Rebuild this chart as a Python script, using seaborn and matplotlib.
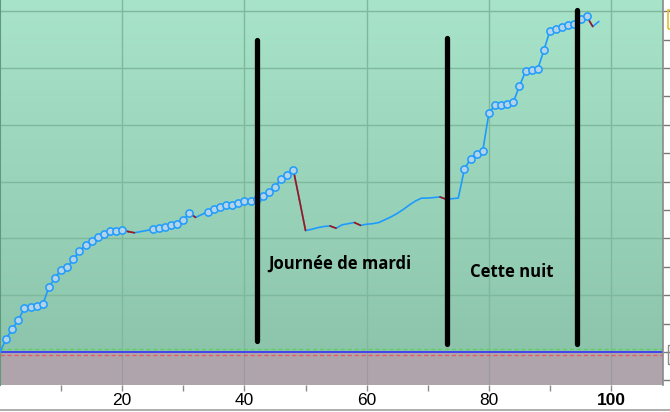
import numpy as np
import pandas as pd
import matplotlib
matplotlib.use("Agg")
import matplotlib.pyplot as plt
from matplotlib.colors import LinearSegmentedColormap
from matplotlib.patches import Rectangle
from matplotlib.lines import Line2D
import seaborn as sns

# ---------------- data ----------------
idx = list(range(0, 99))
values = [
    0.00, 0.23, 0.40, 0.57, 0.77, 0.79, 0.81, 0.84, 1.14, 1.31,
    1.44, 1.49, 1.63, 1.78, 1.88, 1.95, 2.02, 2.07, 2.13, 2.13,
    2.15, 2.12, 2.10, 2.12, 2.14, 2.16, 2.19, 2.21, 2.23, 2.26,
    2.32, 2.45, 2.37, 2.42, 2.47, 2.52, 2.56, 2.59, 2.59, 2.63,
    2.66, 2.66, 2.69, 2.74, 2.81, 2.91, 3.04, 3.11, 3.21, 2.68,
    2.14, 2.16, 2.19, 2.21, 2.22, 2.18, 2.24, 2.26, 2.28, 2.23,
    2.25, 2.26, 2.28, 2.33, 2.38, 2.44, 2.51, 2.59, 2.66, 2.71,
    2.71, 2.72, 2.73, 2.69, 2.70, 2.71, 3.22, 3.40, 3.49, 3.54,
    4.20, 4.35, 4.35, 4.36, 4.40, 4.68, 4.94, 4.96, 4.98, 5.31,
    5.66, 5.68, 5.73, 5.75, 5.78, 5.87, 5.91, 5.73, 5.82,
]
marked_ranges = [(1, 20), (25, 31), (34, 48), (76, 96)]

bar_x = [42.1, 73.1, 94.5]
bar_top = [5.49, 5.53, 6.02]
bar_bottom = [0.20, 0.15, 0.14]

labels_text = ["Journée de mardi", "Cette nuit"]
labels_x = [55.6, 83.8]
labels_y = [1.55, 1.41]

xticks_major = [20, 40, 60, 80, 100]
xticks_minor = [10, 30, 50, 70, 90]
grid_y = [1, 2, 3, 4, 5, 6]

df = pd.DataFrame({"x": idx, "y": values})
df["marked"] = False
for a, b in marked_ranges:
    df.loc[(df.x >= a) & (df.x <= b), "marked"] = True

# ---------------- figure ----------------
sns.set_theme(style="white")
plt.rcParams["font.family"] = ["Liberation Sans", "DejaVu Sans"]

W, H = 670, 412
fig = plt.figure(figsize=(W / 100, H / 100), dpi=100)
ax = fig.add_axes([0, (H - 385) / H, 663 / W, 385 / H])

XMAX, YMIN, YMAX = 108.5, -0.58, 6.197
ax.set_xlim(0, XMAX)
ax.set_ylim(YMIN, YMAX)

# background gradient (positive region) and mauve negative region
cmap = LinearSegmentedColormap.from_list("bg", ["#8cc5ab", "#a8e4ca"])
grad = np.linspace(0, 1, 256).reshape(-1, 1)
ax.imshow(grad, extent=[0, XMAX, 0, YMAX], origin="lower", aspect="auto",
          cmap=cmap, zorder=0)
ax.axhspan(YMIN, 0, color="#b0a4ac", zorder=1, lw=0)

# grid
for gy in grid_y:
    ax.axhline(gy, color="#7fb99c", lw=1.0, zorder=0.5)
for gx in xticks_major:
    ax.plot([gx, gx], [0, YMAX], color="#7fb99c", lw=1.0, zorder=0.5)
    ax.plot([gx, gx], [YMIN, 0], color="#9c9a9e", lw=1.0, zorder=1.1)

# reference lines
ax.axhline(0.053, color="#5fcf5f", lw=1.0, ls=(0, (3, 2)), zorder=2)
ax.axhline(-0.058, color="#e06060", lw=1.0, ls=(0, (3, 2)), zorder=2)
ax.axhline(0.0, color="#3a3af0", lw=1.3, zorder=2.1)

# main line (blue) and declining segments (red)
sns.lineplot(data=df, x="x", y="y", ax=ax, color="#1e9bff", lw=1.2,
             zorder=3, estimator=None, sort=False)
for i in range(1, len(df)):
    if df.y.iloc[i] < df.y.iloc[i - 1]:
        ax.plot(df.x.iloc[i - 1:i + 1], df.y.iloc[i - 1:i + 1],
                color="#a51515", lw=1.2, zorder=3.1)

# markers
sns.scatterplot(data=df[df.marked], x="x", y="y", ax=ax, s=27,
                color="#b2d3e8", edgecolor="#1e9bff", linewidth=1.1,
                zorder=4, legend=False)

# black vertical bars
for bx, bt, bb in zip(bar_x, bar_top, bar_bottom):
    ax.plot([bx, bx], [bb, bt], color="black", lw=3.8,
            solid_capstyle="round", zorder=5)

# annotations
for t, tx, ty in zip(labels_text, labels_x, labels_y):
    ax.text(tx, ty, t, ha="center", va="center", fontsize=12,
            fontweight="bold", family=["Open Sans", "DejaVu Sans"],
            color="black", zorder=6)

# axes cosmetics
ax.set_xlabel("")
ax.set_ylabel("")
ax.set_xticks(xticks_major)
ax.set_xticks(xticks_minor, minor=True)
ax.set_xticklabels([str(v) for v in xticks_major], fontsize=12.5)
ax.get_xticklabels()[-1].set_fontweight("bold")
ax.tick_params(axis="x", which="both", direction="out", length=4,
               color="#8a8a8a", width=1, pad=2, bottom=True, labelcolor="black")
ax.yaxis.tick_right()
ax.set_yticks(np.arange(-0.5, 6.01, 0.5))
ax.set_yticklabels([])
ax.tick_params(axis="y", which="both", direction="out", length=5,
               color="#7a7a7a", width=1, right=True, left=False)
for side in ["top", "bottom"]:
    ax.spines[side].set_visible(False)
ax.spines["left"].set_color("#5e9a7c")
ax.spines["left"].set_linewidth(1.5)
ax.spines["right"].set_color("#8a8a8a")
ax.spines["right"].set_linewidth(1.2)

# partially visible boxes on the right and bottom border line
fig.patches.append(Rectangle((668 / W, 1 - 29 / H), 10 / W, 19 / H,
                             transform=fig.transFigure, fill=False,
                             edgecolor="#e0c030", lw=1.2))
fig.patches.append(Rectangle((668 / W, 1 - 364 / H), 10 / W, 19 / H,
                             transform=fig.transFigure, fill=False,
                             edgecolor="#8a8a8a", lw=1.0))
fig.lines.append(Line2D([0, 1], [1 - 410 / H, 1 - 410 / H],
                        transform=fig.transFigure, color="#a0a0a0", lw=1.2))

fig.savefig("out.png", dpi=100)
